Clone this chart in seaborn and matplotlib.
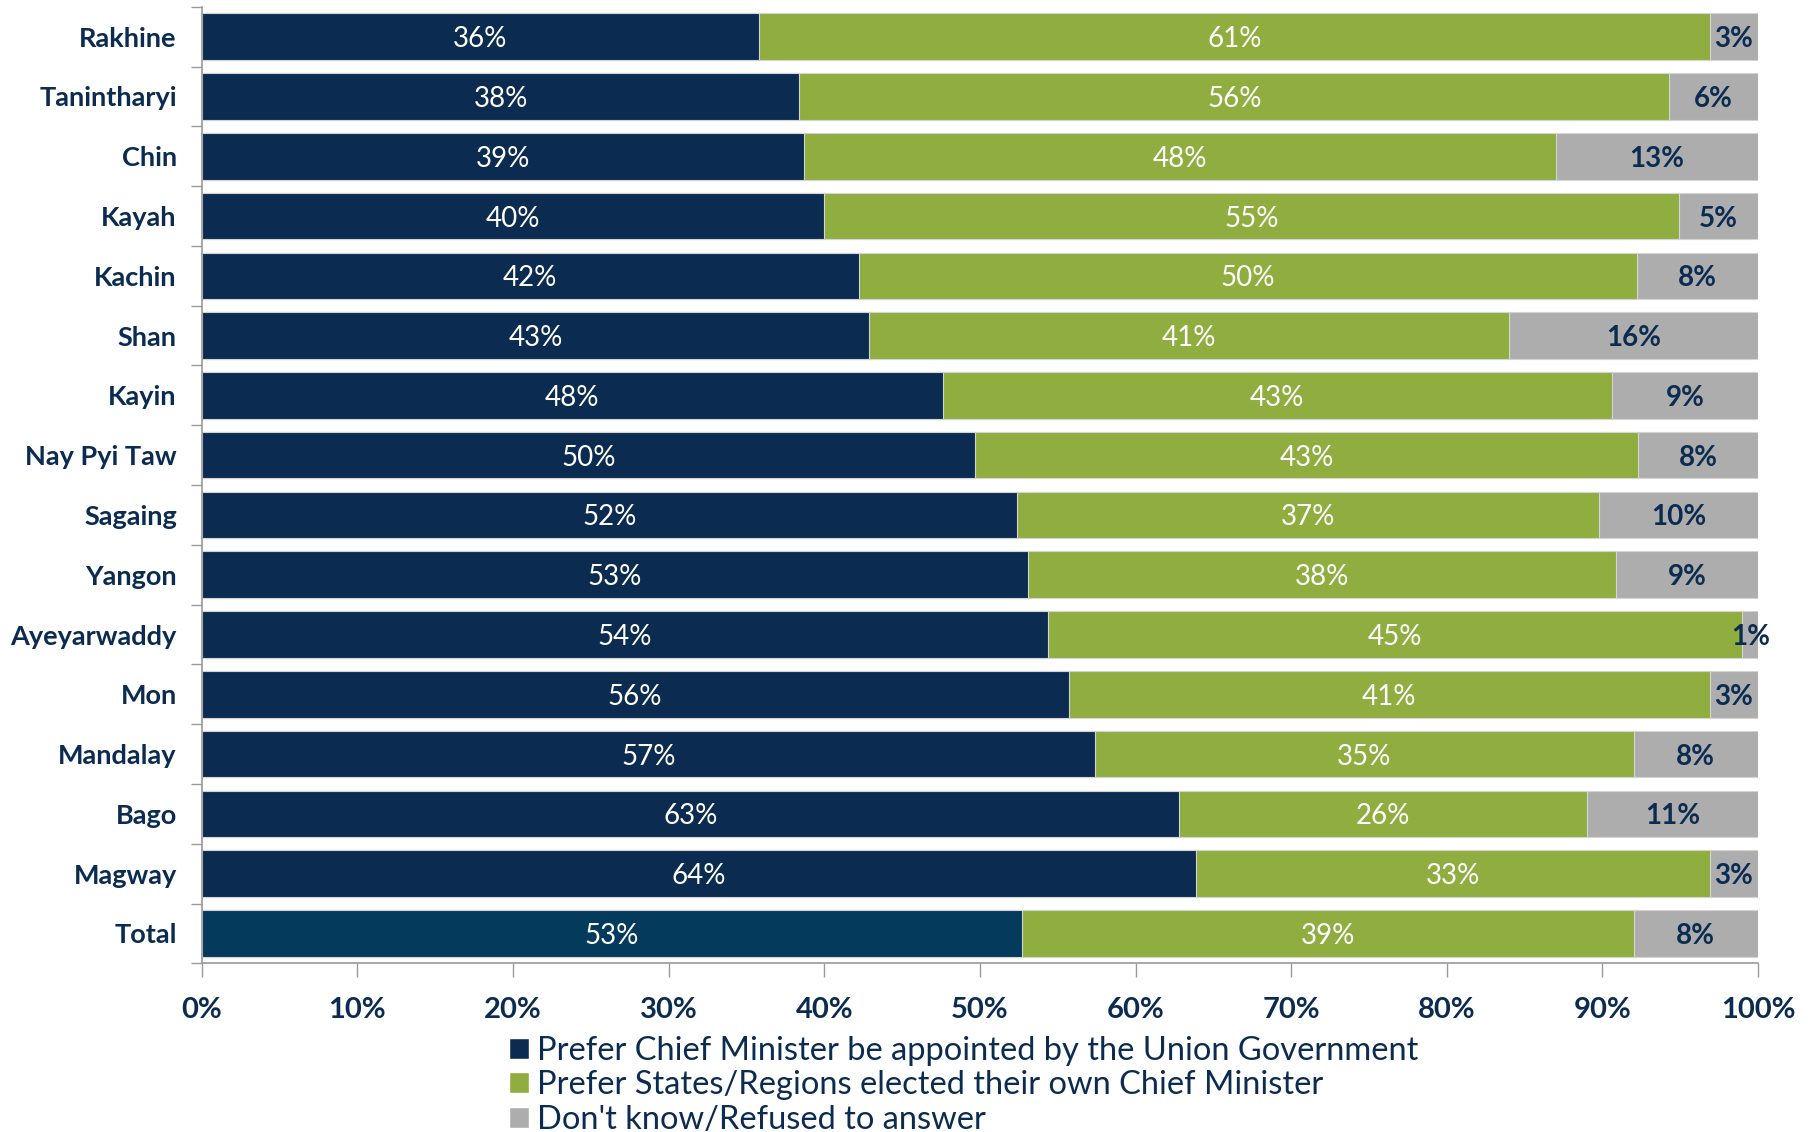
import matplotlib
matplotlib.use('Agg')
import matplotlib.pyplot as plt
from matplotlib.patches import Patch
from matplotlib.ticker import FixedLocator, PercentFormatter
import numpy as np
import pandas as pd
import seaborn as sns

regions = ['Rakhine', 'Tanintharyi', 'Chin', 'Kayah', 'Kachin', 'Shan', 'Kayin', 'Nay Pyi Taw',
           'Sagaing', 'Yangon', 'Ayeyarwaddy', 'Mon', 'Mandalay', 'Bago', 'Magway', 'Total']
appointed = [35.8, 38.4, 38.7, 40.0, 42.2, 42.9, 47.6, 49.7, 52.4, 53.1, 54.4, 55.7, 57.4, 62.8, 63.9, 52.7]
elected = [61.1, 55.9, 48.3, 54.9, 50.0, 41.1, 43.0, 42.6, 37.4, 37.8, 44.6, 41.2, 34.6, 26.2, 33.0, 39.3]
dont_know = [3.1, 5.7, 13.0, 5.1, 7.8, 16.0, 9.4, 7.7, 10.2, 9.1, 1.0, 3.1, 8.0, 11.0, 3.1, 8.0]

legend_labels = ['Prefer Chief Minister be appointed by the Union Government',
                 'Prefer States/Regions elected their own Chief Minister',
                 "Don't know/Refused to answer"]

navy = '#0b2c50'
navy_total = '#043a5b'
green = '#8fae3f'
grey = '#adadae'
text_dark = '#0b2c50'

sns.set_style('white')
plt.rcParams['font.family'] = ['Lato', 'DejaVu Sans']

df = pd.DataFrame({'region': regions, 'appointed': appointed,
                   'elected': elected, 'dont_know': dont_know})
df['c1'] = df['appointed']
df['c2'] = df['c1'] + df['elected']
df['c3'] = df['c2'] + df['dont_know']

fig = plt.figure(figsize=(18.18, 11.32), dpi=100)
ax = fig.add_axes([0.111, 0.149, 0.856, 0.845])

edge = dict(edgecolor='#d4d4d4', linewidth=0.8, saturation=1, width=0.78)
sns.barplot(data=df, x='c3', y='region', color=grey, ax=ax, **edge)
sns.barplot(data=df, x='c2', y='region', color=green, ax=ax, **edge)
first_colors = [navy] * (len(regions) - 1) + [navy_total]
sns.barplot(data=df, x='c1', y='region', hue='region', palette=first_colors,
            legend=False, ax=ax, **edge)

for i, row in df.iterrows():
    ax.text(row['appointed'] / 2, i, f"{row['appointed']:.0f}%", ha='center', va='center_baseline',
            color='white', fontsize=20)
    ax.text(row['c1'] + row['elected'] / 2, i, f"{row['elected']:.0f}%", ha='center',
            va='center_baseline', color='white', fontsize=20)
    ax.text(row['c2'] + row['dont_know'] / 2, i, f"{row['dont_know']:.0f}%", ha='center',
            va='center_baseline', color=text_dark, fontsize=20, fontweight='bold')

ax.set_xlim(0, 100)
ax.set_ylim(len(regions) - 0.5, -0.5)
ax.set_xlabel('')
ax.set_ylabel('')
ax.set_xticks(np.arange(0, 101, 10))
ax.xaxis.set_major_formatter(PercentFormatter(decimals=0))
ax.tick_params(axis='x', which='major', direction='out', length=10, width=1, color='#9a9a9a',
               labelsize=21, labelcolor=text_dark, pad=14, bottom=True)
for lbl in ax.get_xticklabels():
    lbl.set_fontweight('bold')
ax.tick_params(axis='y', which='major', length=0, labelsize=19.5, labelcolor=text_dark, pad=18)
for lbl in ax.get_yticklabels():
    lbl.set_fontweight('bold')
ax.yaxis.set_minor_locator(FixedLocator(np.arange(-0.5, len(regions), 1)))
ax.tick_params(axis='y', which='minor', direction='out', length=8, width=1, color='#9a9a9a', left=True)

for s in ['top', 'right']:
    ax.spines[s].set_visible(False)
for s in ['left', 'bottom']:
    ax.spines[s].set_color('#9a9a9a')
    ax.spines[s].set_linewidth(1.2)

handles = [Patch(facecolor=c) for c in [navy, green, grey]]
fig.legend(handles, legend_labels, loc='upper left', bbox_to_anchor=(0.28, 0.085),
           frameon=False, fontsize=23.5, handlelength=0.6, handleheight=0.6,
           handletextpad=0.25, labelspacing=0.14, borderpad=0, borderaxespad=0,
           labelcolor=text_dark)

fig.savefig('out.png', dpi=100)
